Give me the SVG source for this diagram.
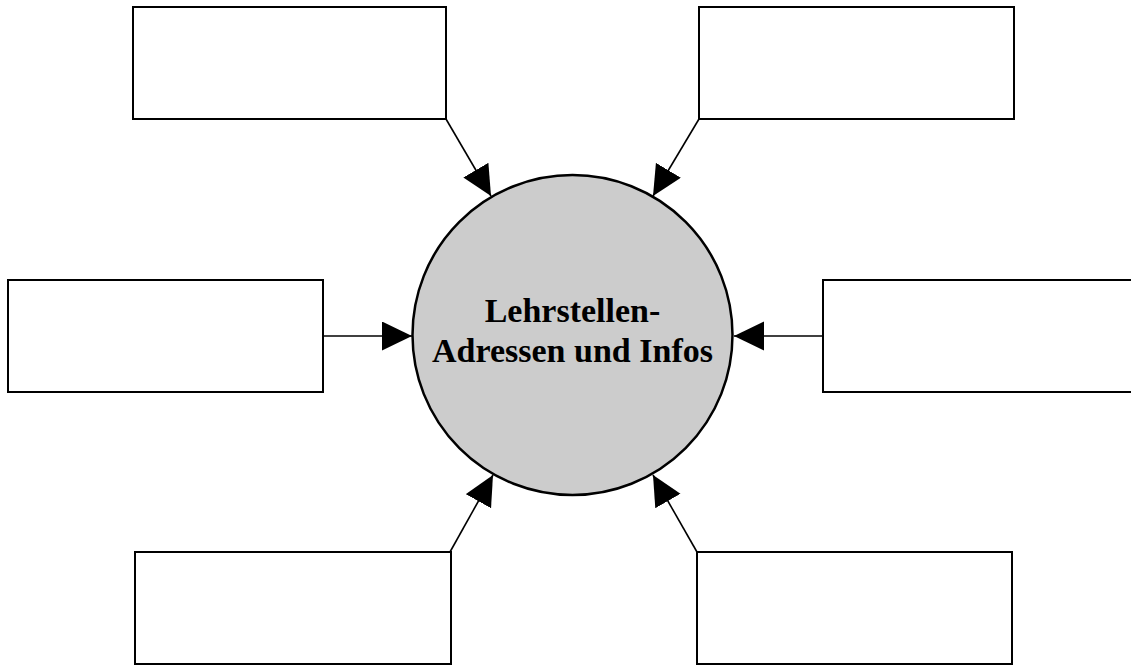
<svg xmlns="http://www.w3.org/2000/svg" width="1131" height="665" viewBox="0 0 1131 665">
<style>
.box{fill:#fff;stroke:#000;stroke-width:2}
.conn{stroke:#000;stroke-width:1.6;fill:none;marker-end:url(#ah)}
.lbl{font-family:"Liberation Serif","Times New Roman",serif;font-weight:bold;font-size:34px;fill:#000;text-anchor:middle}
</style>
<defs>
<marker id="ah" markerUnits="userSpaceOnUse" markerWidth="31" markerHeight="30" refX="30" refY="14.5" orient="auto" viewBox="0 0 31 30">
<path d="M0,0 L30,14.5 L0,29 Z" fill="#000"/>
</marker>
</defs>
<rect width="1131" height="665" fill="#fff"/>
<g id="connectors">
<line class="conn" x1="446" y1="119" x2="491" y2="196"/>
<line class="conn" x1="699" y1="119" x2="653" y2="196"/>
<line class="conn" x1="323" y1="336" x2="412" y2="336"/>
<line class="conn" x1="823" y1="336" x2="734" y2="336"/>
<line class="conn" x1="450" y1="552" x2="493" y2="475"/>
<line class="conn" x1="697" y1="552" x2="653" y2="475"/>
</g>
<g id="box-top-left"><rect class="box" x="133" y="7" width="313" height="112"/></g>
<g id="box-top-right"><rect class="box" x="699" y="7" width="315" height="112"/></g>
<g id="box-left"><rect class="box" x="8" y="280" width="315" height="112"/></g>
<g id="box-right"><rect class="box" x="823" y="280" width="320" height="112"/></g>
<g id="box-bottom-left"><rect class="box" x="135" y="552" width="316" height="112"/></g>
<g id="box-bottom-right"><rect class="box" x="697" y="552" width="315" height="112"/></g>
<g id="center">
<circle cx="572.5" cy="335" r="160" fill="#cccccc" stroke="#000" stroke-width="2.5"/>
<text class="lbl" x="572.5" y="322">Lehrstellen-</text>
<text class="lbl" x="572.5" y="362">Adressen und Infos</text>
</g>
</svg>
